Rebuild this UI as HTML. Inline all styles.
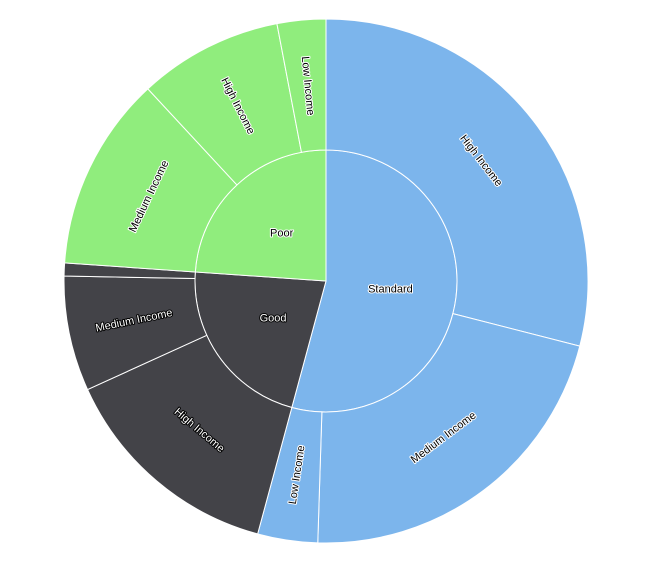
<!DOCTYPE html>
<html><head><meta charset="utf-8"><style>
html,body{margin:0;padding:0;background:#fff;}
svg text{font-family:"Liberation Sans",sans-serif;font-size:11px;}
</style></head><body>
<svg id="chart" width="651" height="563" xmlns="http://www.w3.org/2000/svg"></svg>
<script>
const parents = ["Standard","Good","Poor"];
const parentColors = ["#7cb5ec","#434348","#90ed7d"];
const childNames = [["High Income","Medium Income","Low Income"],["High Income","Medium Income","Low Income"],["Medium Income","High Income","Low Income"]];
const childValues = [[290,215,37],[140,71,8],[120,89,30]];
const childShowLabel = [[1,1,1],[1,1,0],[1,1,1]];
const childOrient = [["t","t","r"],["t","r","r"],["t","r","r"]];

const svg=document.getElementById('chart');
const NS="http://www.w3.org/2000/svg";
const cx=326,cy=281,r0=131,r1=262;
const total=childValues.flat().reduce((a,b)=>a+b,0);
const ang=v=>v/total*2*Math.PI;
function pt(r,a){return [cx+r*Math.sin(a),cy-r*Math.cos(a)];}
function arcPath(ri,ro,a0,a1){
  const large=(a1-a0)>Math.PI?1:0;
  const [x0,y0]=pt(ro,a0),[x1,y1]=pt(ro,a1);
  if(ri===0){return `M${cx},${cy}L${x0},${y0}A${ro},${ro} 0 ${large} 1 ${x1},${y1}Z`;}
  const [x2,y2]=pt(ri,a1),[x3,y3]=pt(ri,a0);
  return `M${x0},${y0}A${ro},${ro} 0 ${large} 1 ${x1},${y1}L${x2},${y2}A${ri},${ri} 0 ${large} 0 ${x3},${y3}Z`;
}
function label(x,y,rot,txt,fill,stroke,name){
  const t=document.createElementNS(NS,'text');
  
  
  t.setAttribute('x',x);t.setAttribute('y',y);
  t.setAttribute('text-anchor','middle');t.setAttribute('dominant-baseline','central');
  t.setAttribute('fill',fill);t.setAttribute('stroke',stroke);t.setAttribute('stroke-width','2');
  t.setAttribute('paint-order','stroke');t.setAttribute('stroke-linejoin','round');
  if(rot)t.setAttribute('transform',`rotate(${rot} ${x} ${y})`);
  t.textContent=txt;svg.appendChild(t);
}
const labels=[];
let a=0;
parents.forEach((p,i)=>{
  const sum=childValues[i].reduce((s,v)=>s+v,0);
  const a0=a,a1=a+ang(sum);
  const path=document.createElementNS(NS,'path');
  
  
  path.setAttribute('d',arcPath(0,r0,a0,a1));
  path.setAttribute('fill',parentColors[i]);path.setAttribute('stroke','#fff');path.setAttribute('stroke-width','1');
  svg.appendChild(path);
  const dark=i===1;
  const [lx,ly]=pt(65,(a0+a1)/2);
  labels.push([lx,ly,0,p,dark?'#fff':'#000',dark?'#000':'#fff','label-'+p.toLowerCase()]);
  let b=a0;
  childValues[i].forEach((v,j)=>{
    const b0=b,b1=b+ang(v);
    const cp=document.createElementNS(NS,'path');
    
    
    cp.setAttribute('d',arcPath(r0,r1,b0,b1));
    cp.setAttribute('fill',parentColors[i]);cp.setAttribute('stroke','#fff');cp.setAttribute('stroke-width','1');
    svg.appendChild(cp);
    if(childShowLabel[i][j]){
      const mid=(b0+b1)/2,deg=mid*180/Math.PI;
      let rot=childOrient[i][j]==='t'?deg:deg-90;
      while(rot>90)rot-=180;while(rot<-90)rot+=180;
      const [x,y]=pt(196,mid);
      labels.push([x,y,rot,childNames[i][j],dark?'#fff':'#000',dark?'#000':'#fff','label-'+p.toLowerCase()+'-'+childNames[i][j].toLowerCase().replace(' ','-')]);
    }
    b=b1;
  });
  a=a1;
});
labels.forEach(l=>label(...l));
</script>
</body></html>
